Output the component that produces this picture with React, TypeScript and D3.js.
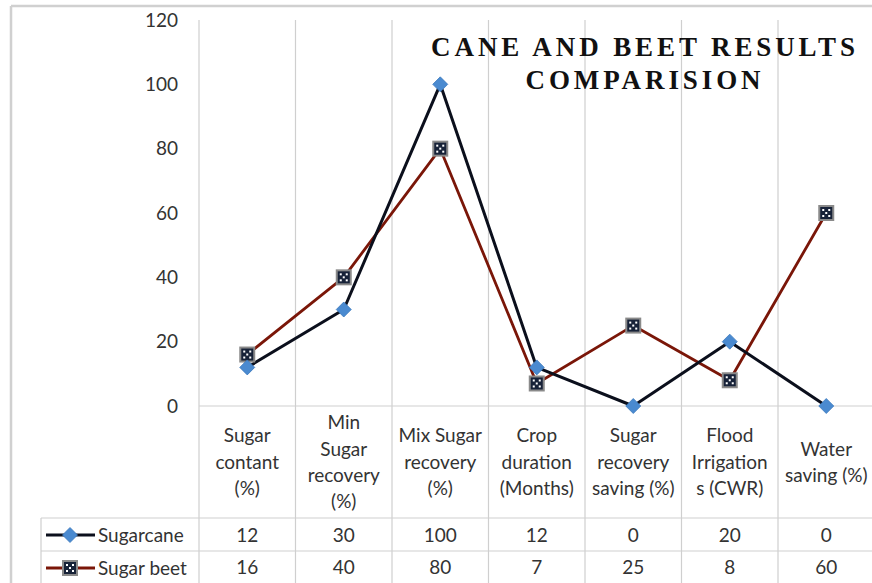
import React from "react";
import * as d3 from "d3";

const categories: string[][] = [
  ["Sugar", "contant", "(%)"],
  ["Min", "Sugar", "recovery", "(%)"],
  ["Mix Sugar", "recovery", "(%)"],
  ["Crop", "duration", "(Months)"],
  ["Sugar", "recovery", "saving (%)"],
  ["Flood", "Irrigation", "s (CWR)"],
  ["Water", "saving (%)"],
];
const sugarcane = [12, 30, 100, 12, 0, 20, 0];
const sugarBeet = [16, 40, 80, 7, 25, 8, 60];
const yTicks = [0, 20, 40, 60, 80, 100, 120];
const seriesNames = ["Sugarcane", "Sugar beet"];

const W = 872;
const H = 583;
const FONT = "Lato, 'Open Sans', sans-serif";
const FS = 19;

export default function App() {
  const idx = categories.map((_, i) => String(i));
  const x = d3.scaleBand<string>().domain(idx).range([199, 874.5]).padding(0);
  const y = d3.scaleLinear().domain([0, 120]).range([406, 20]);
  const cx = (i: number) => (x(String(i)) as number) + x.bandwidth() / 2;

  const line = d3
    .line<number>()
    .x((_, i) => cx(i))
    .y((d) => y(d));

  const tableTop = 406;
  const row1 = 518;
  const row2 = 551;
  const row3 = 584;
  const legendLeft = 41;
  const gridColor = "#cfcfcf";

  const bounds = [...idx.map((k) => x(k) as number), 874.5];

  const diamond = (px: number, py: number, key: string) => (
    <path
      key={key}
      d={`M${px},${py - 7.5} L${px + 7.5},${py} L${px},${py + 7.5} L${px - 7.5},${py} Z`}
      fill="#4a8ad0"
      stroke="#3b78bd"
      strokeWidth={0.8}
    />
  );
  const square = (px: number, py: number, key: string) => (
    <g key={key}>
      <rect x={px - 7} y={py - 7} width={14} height={14} fill="#172238" stroke="#8a8a8a" strokeWidth={2} />
      {[
        [-3, -3],
        [3, -3],
        [0, 0],
        [-3, 3],
        [3, 3],
      ].map(([dx, dy], j) => (
        <rect key={j} x={px + dx - 1} y={py + dy - 1} width={2} height={2} fill="#ffffff" />
      ))}
    </g>
  );

  return (
    <svg
      width={W}
      height={H}
      style={{ position: "absolute", left: 0, top: 0, background: "#fff" }}
      fontFamily={FONT}
    >
      {/* outer chart border */}
      <line x1={11} y1={6} x2={W} y2={6} stroke="#d0d0d0" strokeWidth={2.5} />
      <line x1={11} y1={6} x2={11} y2={H} stroke="#d0d0d0" strokeWidth={2.5} />

      {/* vertical gridlines / table column lines */}
      {bounds.map((bx, i) => (
        <line key={i} x1={bx} y1={20} x2={bx} y2={H} stroke={gridColor} strokeWidth={1.2} />
      ))}
      {/* horizontal table lines */}
      <line x1={199} y1={tableTop} x2={W} y2={tableTop} stroke={gridColor} strokeWidth={1.2} />
      <line x1={legendLeft} y1={row1} x2={W} y2={row1} stroke={gridColor} strokeWidth={1.2} />
      <line x1={legendLeft} y1={row2} x2={W} y2={row2} stroke={gridColor} strokeWidth={1.2} />
      <line x1={legendLeft} y1={row3} x2={W} y2={row3} stroke={gridColor} strokeWidth={1.2} />
      <line x1={legendLeft} y1={row1} x2={legendLeft} y2={H} stroke={gridColor} strokeWidth={1.2} />

      {/* y tick labels */}
      {yTicks.map((t) => (
        <text key={t} x={178} y={y(t)} dy="0.35em" textAnchor="end" fontSize={FS} fill="#333">
          {t}
        </text>
      ))}

      {/* category labels */}
      {categories.map((lines, i) => {
        const lh = 26.3;
        const start = 462 - ((lines.length - 1) * lh) / 2;
        return (
          <text key={i} textAnchor="middle" fontSize={FS} fill="#333">
            {lines.map((l, j) => (
              <tspan key={j} x={cx(i)} y={start + j * lh} dy="0.35em">
                {l}
              </tspan>
            ))}
          </text>
        );
      })}

      {/* data table values */}
      {sugarcane.map((v, i) => (
        <text key={"a" + i} x={cx(i)} y={(row1 + row2) / 2 + 1} dy="0.35em" textAnchor="middle" fontSize={FS} fill="#333">
          {v}
        </text>
      ))}
      {sugarBeet.map((v, i) => (
        <text key={"b" + i} x={cx(i)} y={(row2 + row3) / 2 - 0.5} dy="0.35em" textAnchor="middle" fontSize={FS} fill="#333">
          {v}
        </text>
      ))}

      {/* legend keys */}
      <line x1={46} y1={535} x2={95} y2={535} stroke="#0b0f1c" strokeWidth={3} />
      {diamond(70, 535, "ld")}
      <text x={98} y={535} dy="0.35em" fontSize={FS} fill="#333">
        {seriesNames[0]}
      </text>
      <line x1={46} y1={568} x2={95} y2={568} stroke="#7a1608" strokeWidth={3} />
      {square(70, 568, "ls")}
      <text x={98} y={568} dy="0.35em" fontSize={FS} fill="#333">
        {seriesNames[1]}
      </text>

      {/* series lines */}
      <path d={line(sugarBeet) || ""} fill="none" stroke="#7a1608" strokeWidth={2.8} strokeLinejoin="round" />
      <path d={line(sugarcane) || ""} fill="none" stroke="#0b0f1c" strokeWidth={3} strokeLinejoin="round" />
      {sugarBeet.map((v, i) => square(cx(i), y(v), "s" + i))}
      {sugarcane.map((v, i) => diamond(cx(i), y(v), "d" + i))}

      {/* title */}
      <text
        x={645}
        y={47}
        dy="0.35em"
        textAnchor="middle"
        fontFamily="'Liberation Serif', 'DejaVu Serif', serif"
        fontWeight="bold"
        fontSize={27}
        letterSpacing={3.9}
        fill="#111"
      >
        CANE AND BEET RESULTS
      </text>
      <text
        x={645}
        y={80}
        dy="0.35em"
        textAnchor="middle"
        fontFamily="'Liberation Serif', 'DejaVu Serif', serif"
        fontWeight="bold"
        fontSize={27}
        letterSpacing={3.9}
        fill="#111"
      >
        COMPARISION
      </text>
    </svg>
  );
}
